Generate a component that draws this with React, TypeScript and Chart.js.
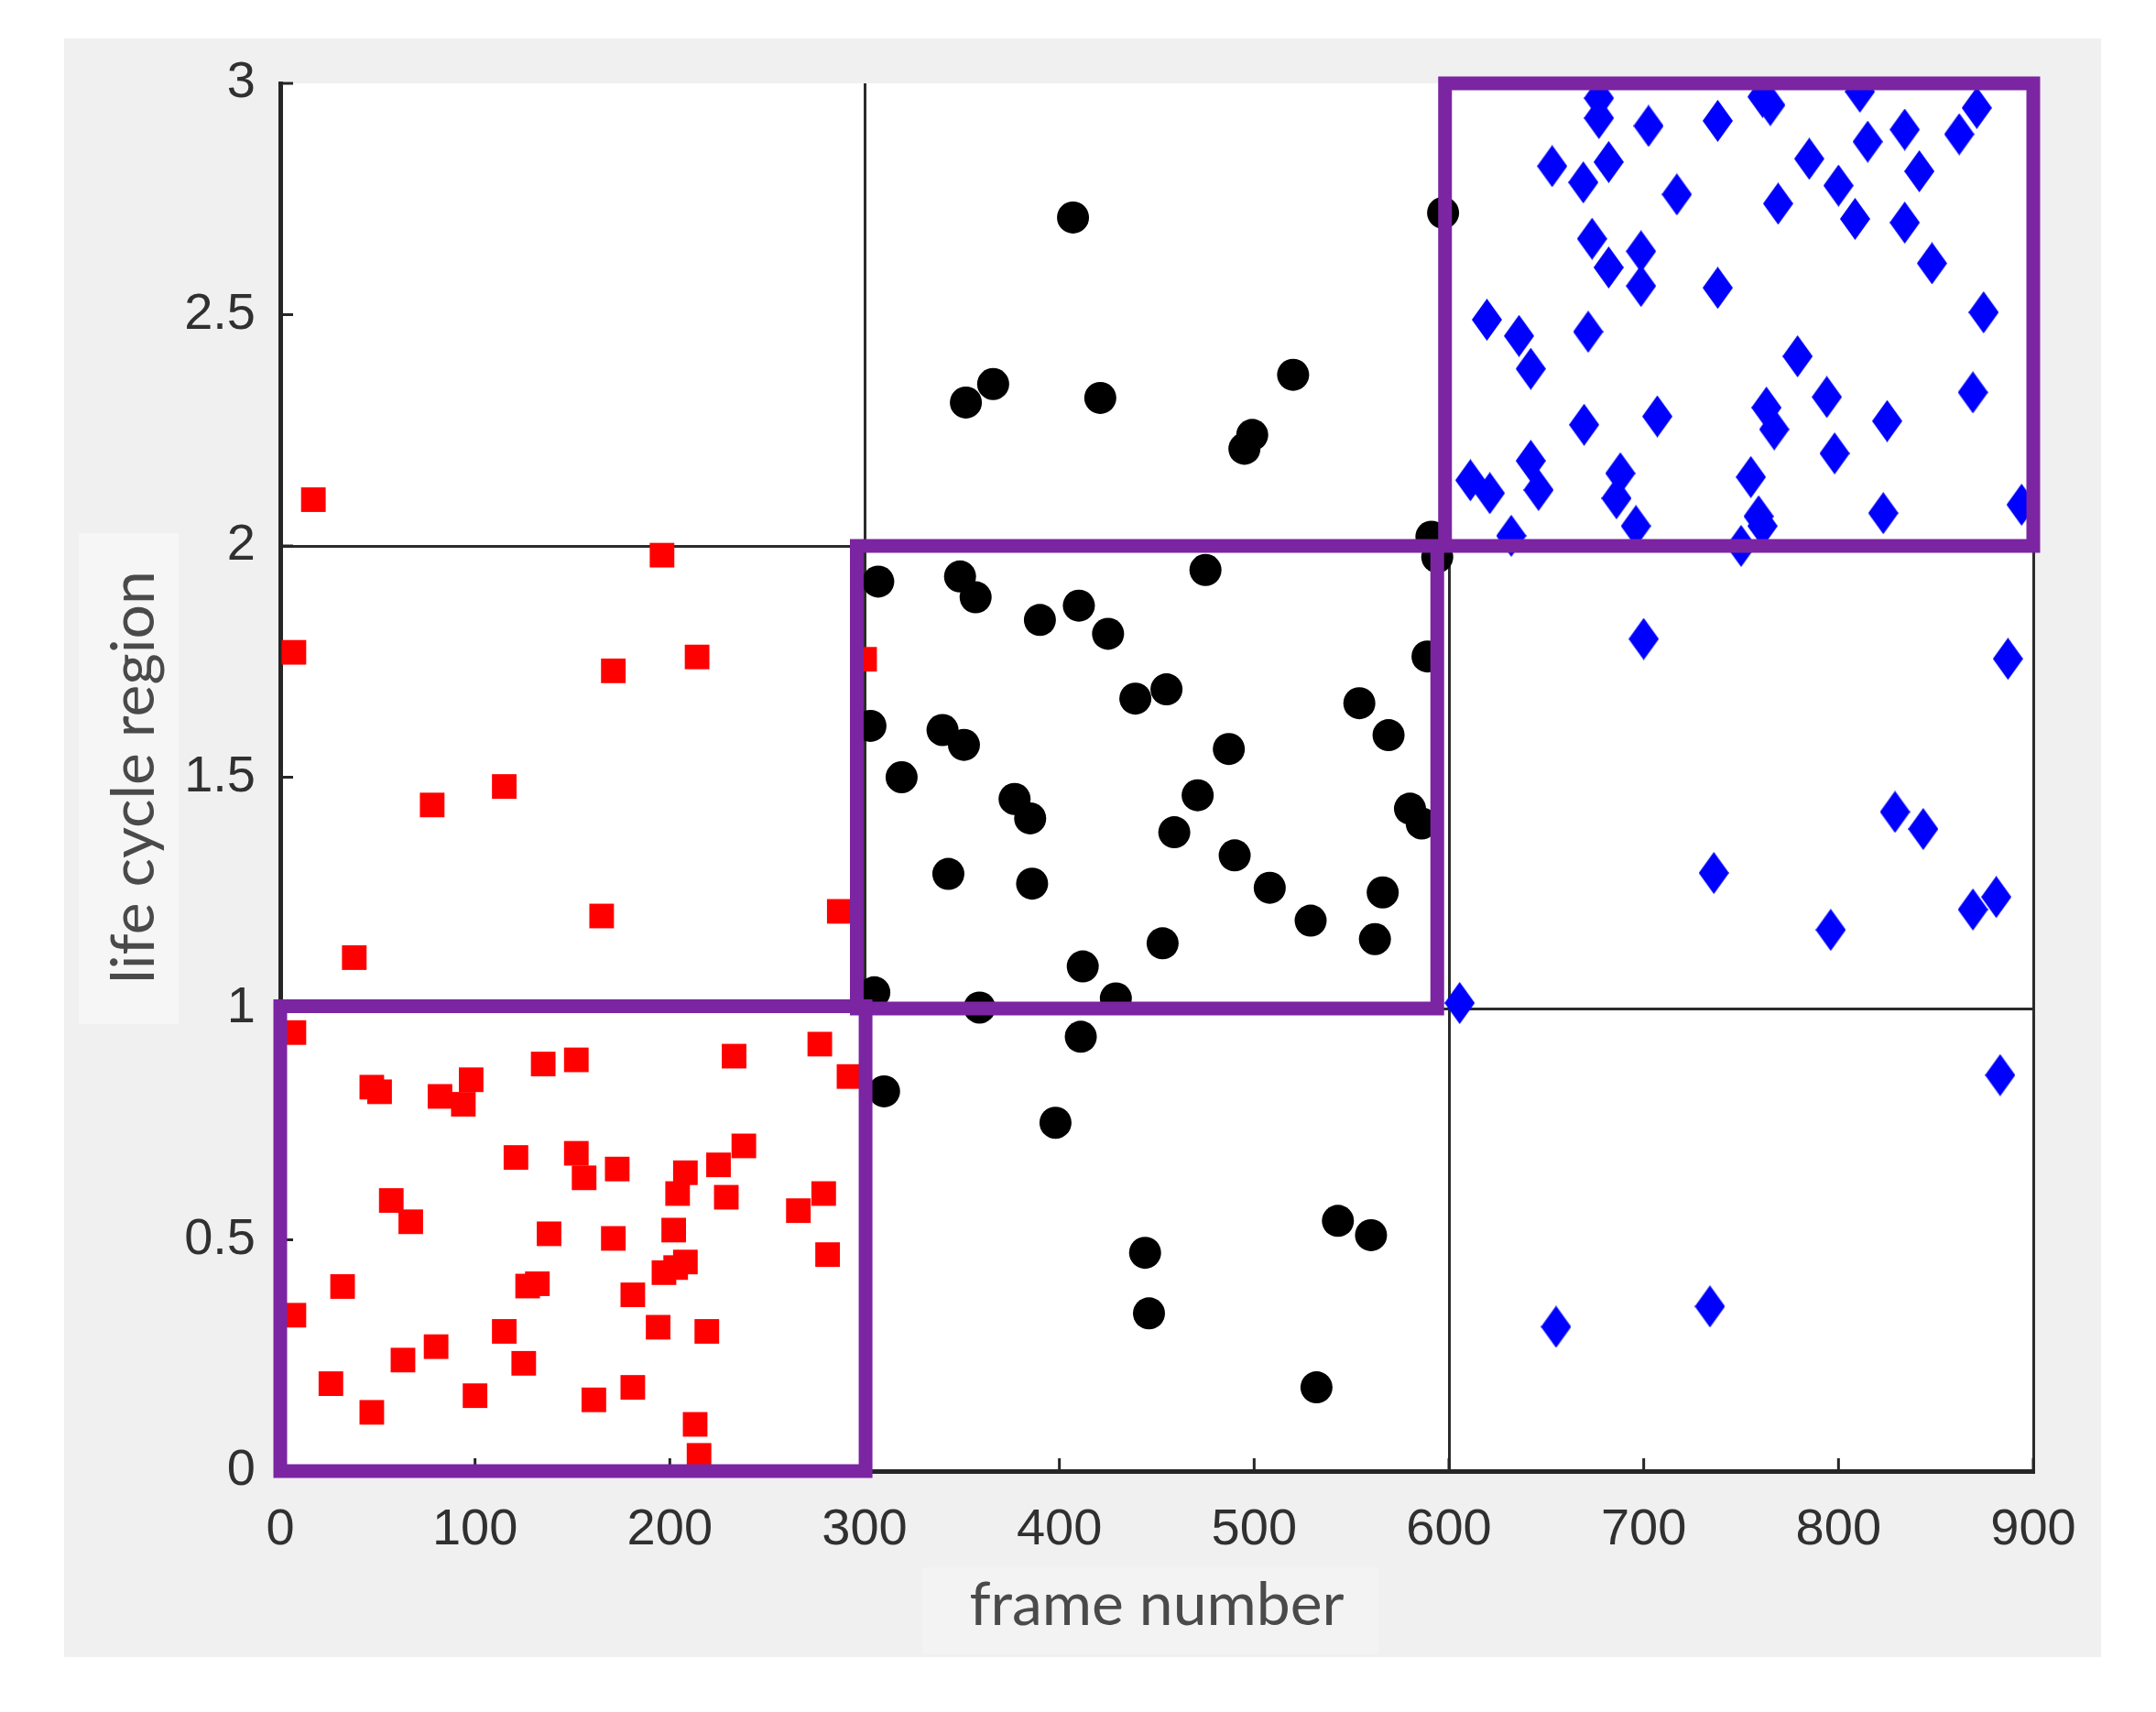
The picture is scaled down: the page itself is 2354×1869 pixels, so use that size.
import React, { useEffect, useRef } from 'react';
import { Chart, registerables } from 'chart.js';

Chart.register(...registerables);

// ---------- axis ticks ----------
const xTickValues = [0, 100, 200, 300, 400, 500, 600, 700, 800, 900];
const xTickLabels = ['0', '100', '200', '300', '400', '500', '600', '700', '800', '900'];
const yTickValues = [0, 0.5, 1, 1.5, 2, 2.5, 3];
const yTickLabels = ['0', '0.5', '1', '1.5', '2', '2.5', '3'];
const xGridValues = [300, 600, 900];
const yGridValues = [1, 2];

// ---------- highlighted regions (frame range x life-cycle range) ----------
const regionFrameStart = [0, 296, 598];
const regionFrameEnd = [300.5, 594, 900];
const regionLevelLow = [0, 1, 2];
const regionLevelHigh = [1.005, 2, 3];

// ---------- red squares ----------
const redFrames = [
  17, 7, 196, 171, 214, 300, 78, 115, 165, 38, 287,
  7, 135, 152, 233, 277, 292, 47, 51, 98, 82, 94, 121, 152, 156, 173, 208, 204, 225, 238, 229,
  279, 266, 57, 67, 138, 171, 202, 281, 32, 127, 132, 181, 197, 203, 208, 7, 115, 194, 219,
  80, 63, 125, 26, 100, 161, 181, 47, 213, 215,
];
const redRegions = [
  2.1, 1.77, 1.98, 1.73, 1.76, 1.755, 1.44, 1.48, 1.2, 1.11, 1.21,
  0.948, 0.88, 0.889, 0.897, 0.923, 0.853, 0.83, 0.82, 0.846, 0.81, 0.793, 0.678, 0.687, 0.634, 0.653, 0.645, 0.6, 0.662, 0.703, 0.592,
  0.6, 0.563, 0.585, 0.539, 0.513, 0.503, 0.521, 0.468, 0.399, 0.4, 0.405, 0.381, 0.429, 0.44, 0.452, 0.337, 0.302, 0.311, 0.302,
  0.269, 0.24, 0.233, 0.189, 0.163, 0.154, 0.181, 0.127, 0.101, 0.034,
];

// ---------- black circles ----------
const blackFrames = [
  407, 366, 352, 421, 520, 499, 495, 597, 591,
  594, 307, 349, 357, 390, 410, 425, 475, 589, 439, 455, 554, 569, 303, 340, 351, 487, 319, 377, 385,
  471, 459, 580, 586, 343, 386, 490, 508, 529, 566, 562, 453, 412, 305, 359, 429,
  411, 310, 398, 543, 560, 444, 446, 532,
];
const blackRegions = [
  2.71, 2.35, 2.31, 2.32, 2.37, 2.24, 2.21, 2.72, 2.02,
  1.976, 1.923, 1.934, 1.889, 1.84, 1.871, 1.81, 1.948, 1.761, 1.67, 1.69, 1.66, 1.591, 1.611, 1.602, 1.57, 1.561, 1.5, 1.453, 1.411,
  1.461, 1.381, 1.432, 1.4, 1.291, 1.27, 1.331, 1.261, 1.19, 1.251, 1.15, 1.141, 1.091, 1.035, 1.002, 1.022,
  0.939, 0.821, 0.753, 0.541, 0.51, 0.472, 0.341, 0.181,
];

// ---------- blue diamonds ----------
const blueFrames = [
  677, 677, 702.5, 738, 761, 765, 811, 871, 862, 834, 815, 841.5, 785, 653, 669, 682, 717, 769, 800, 808.5,
  834, 848, 673.5, 682, 698.6, 698.6, 738, 874.5, 619.5, 636, 671.5, 642, 779, 794, 869, 669.4, 707, 763, 767, 825,
  798, 642, 646, 611, 621, 688, 686, 755, 823, 894, 759, 761, 696, 632, 750,
  700, 887, 829, 843.5, 736, 796, 869, 881, 605.5, 883, 655, 734,
];
const blueRegions = [
  2.968, 2.925, 2.908, 2.919, 2.971, 2.953, 2.982, 2.947, 2.89, 2.9, 2.874, 2.81, 2.837, 2.821, 2.786, 2.83, 2.76, 2.74, 2.779, 2.707,
  2.699, 2.611, 2.664, 2.602, 2.637, 2.562, 2.558, 2.505, 2.489, 2.454, 2.463, 2.383, 2.41, 2.322, 2.332, 2.262, 2.28, 2.299, 2.252, 2.27,
  2.2, 2.184, 2.121, 2.142, 2.114, 2.157, 2.103, 2.149, 2.071, 2.089, 2.064, 2.043, 2.043, 2.022, 2.0,
  1.799, 1.756, 1.425, 1.388, 1.293, 1.17, 1.214, 1.241, 1.012, 0.856, 0.312, 0.356,
];

const W = 2354;
const H = 1869;
const PURPLE = '#7b25a2';
const AXIS = '#262626';
const TICK_FONT = "'Liberation Sans', Arial, Helvetica, sans-serif";
const LABEL_FONT = "Lato, 'Open Sans', sans-serif";

function makeDiamond(w: number, h: number, color: string): HTMLCanvasElement {
  const c = document.createElement('canvas');
  c.width = w;
  c.height = h;
  const g = c.getContext('2d')!;
  g.fillStyle = color;
  g.beginPath();
  g.moveTo(w / 2, 0);
  g.lineTo(w, h / 2);
  g.lineTo(w / 2, h);
  g.lineTo(0, h / 2);
  g.closePath();
  g.fill();
  return c;
}

function pts(xs: number[], ys: number[]) {
  return xs.map((x, i) => ({ x, y: ys[i] }));
}

export default function App() {
  const ref = useRef<HTMLCanvasElement>(null);

  useEffect(() => {
    document.body.style.margin = '0';
    document.body.style.background = '#ffffff';
    const canvas = ref.current;
    if (!canvas) return;

    const diamond = makeDiamond(33, 46, '#0000ff');

    const framePlugin = {
      id: 'figureFrame',
      beforeDraw(chart: any) {
        const { ctx, chartArea } = chart;
        ctx.save();
        ctx.fillStyle = '#ffffff';
        ctx.fillRect(0, 0, W, H);
        ctx.fillStyle = '#f0f0f0';
        ctx.fillRect(70, 42, 2224, 1767);
        ctx.fillStyle = '#f6f6f6';
        ctx.fillRect(86, 582, 109, 536);
        ctx.fillStyle = '#f3f3f3';
        ctx.fillRect(1007, 1711, 498, 95);
        ctx.fillStyle = '#ffffff';
        ctx.fillRect(chartArea.left, chartArea.top, chartArea.right - chartArea.left, chartArea.bottom - chartArea.top);
        ctx.restore();
      },
      beforeDatasetsDraw(chart: any) {
        const { ctx, chartArea, scales } = chart;
        ctx.save();
        ctx.strokeStyle = AXIS;
        ctx.lineWidth = 3;
        ctx.beginPath();
        for (const v of xTickValues) {
          const px = scales.x.getPixelForValue(v);
          ctx.moveTo(px, chartArea.bottom);
          ctx.lineTo(px, chartArea.bottom - 14);
        }
        for (const v of yTickValues) {
          const py = scales.y.getPixelForValue(v);
          ctx.moveTo(chartArea.left, py);
          ctx.lineTo(chartArea.left + 14, py);
        }
        ctx.stroke();
        ctx.restore();
      },
    };

    const regionSets = regionFrameStart.map((x0, i) => ({
      label: 'region ' + (i + 1),
      data: [
        { x: x0, y: regionLevelLow[i] },
        { x: regionFrameEnd[i], y: regionLevelLow[i] },
        { x: regionFrameEnd[i], y: regionLevelHigh[i] },
        { x: x0, y: regionLevelHigh[i] },
        { x: x0, y: regionLevelLow[i] },
      ],
      showLine: true,
      borderColor: PURPLE,
      backgroundColor: PURPLE,
      borderWidth: 15,
      borderJoinStyle: 'miter',
      borderCapStyle: 'square',
      pointRadius: 0,
      fill: false,
      tension: 0,
      clip: false,
      order: 0,
    }));

    const chart = new Chart(canvas, {
      type: 'scatter',
      data: {
        datasets: [
          ...regionSets,
          {
            label: 'region 3 points',
            data: pts(blueFrames, blueRegions),
            pointStyle: diamond,
            pointRadius: 17,
            backgroundColor: '#0000ff',
            borderWidth: 0,
            clip: 0,
            order: 1,
          },
          {
            label: 'region 2 points',
            data: pts(blackFrames, blackRegions),
            pointStyle: 'circle',
            pointRadius: 17.5,
            backgroundColor: '#000000',
            borderColor: '#000000',
            borderWidth: 0,
            clip: 0,
            order: 2,
          },
          {
            label: 'region 1 points',
            data: pts(redFrames, redRegions),
            pointStyle: 'rect',
            pointRadius: 19,
            backgroundColor: '#ff0000',
            borderColor: '#ff0000',
            borderWidth: 0,
            clip: 0,
            order: 3,
          },
        ] as any,
      },
      options: {
        responsive: false,
        devicePixelRatio: 1,
        animation: false,
        events: [],
        layout: { padding: { top: 91, right: 134, bottom: 0, left: 0 } },
        plugins: {
          legend: { display: false },
          tooltip: { enabled: false },
        },
        scales: {
          x: {
            type: 'linear',
            min: 0,
            max: 900,
            afterBuildTicks: (s: any) => {
              s.ticks = xTickValues.map((v) => ({ value: v }));
            },
            afterFit: (s: any) => {
              s.height = 263;
            },
            ticks: {
              autoSkip: false,
              maxRotation: 0,
              padding: 31,
              color: '#303030',
              font: { family: TICK_FONT, size: 56 },
              callback: (_v: any, i: number) => xTickLabels[i],
            },
            grid: {
              drawTicks: false,
              lineWidth: 3,
              color: (c: any) => (c.tick && xGridValues.includes(c.tick.value) ? '#2b2b2b' : 'rgba(0,0,0,0)'),
            },
            border: { display: true, color: AXIS, width: 5 },
            title: {
              display: true,
              text: 'frame number',
              color: '#4a4a4a',
              font: { family: LABEL_FONT, size: 66 },
              padding: { top: 0, bottom: 77 },
            },
          },
          y: {
            type: 'linear',
            min: 0,
            max: 3,
            afterBuildTicks: (s: any) => {
              s.ticks = yTickValues.map((v) => ({ value: v }));
            },
            afterFit: (s: any) => {
              s.width = 306;
            },
            ticks: {
              autoSkip: false,
              padding: 27,
              color: '#303030',
              font: { family: TICK_FONT, size: 56 },
              callback: (_v: any, i: number) => yTickLabels[i],
            },
            grid: {
              drawTicks: false,
              lineWidth: 3,
              color: (c: any) => (c.tick && yGridValues.includes(c.tick.value) ? '#2b2b2b' : 'rgba(0,0,0,0)'),
            },
            border: { display: true, color: AXIS, width: 5 },
            title: {
              display: true,
              text: 'life cycle region',
              color: '#4a4a4a',
              font: { family: LABEL_FONT, size: 66 },
              padding: { top: 107, bottom: 0 },
            },
          },
        },
      } as any,
      plugins: [framePlugin],
    });

    return () => {
      chart.destroy();
    };
  }, []);

  return (
    <canvas
      ref={ref}
      width={W}
      height={H}
      style={{ display: 'block', width: W + 'px', height: H + 'px' }}
    />
  );
}
